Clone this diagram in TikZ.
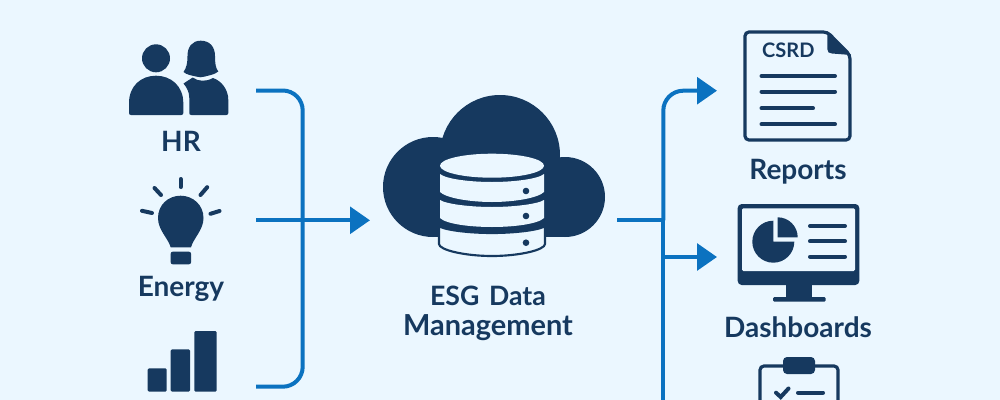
\documentclass[tikz,border=0pt]{standalone}
\usepackage{fontspec}
\setmainfont{Lato}
\usetikzlibrary{arrows.meta}
\definecolor{pagebg}{RGB}{235,247,255}
\definecolor{iconnavy}{RGB}{22,57,95}
\definecolor{flowblue}{RGB}{11,114,192}
\tikzset{
  flow/.style={draw=flowblue,line width=3pt},
  flowtip/.style={flow,-{Triangle[length=15pt,width=20pt]}},
  iconfill/.style={fill=iconnavy},
  iconline/.style={draw=iconnavy,line width=3pt,line cap=round},
  iconedge/.style={draw=iconnavy,line width=2.4pt,fill=pagebg,rounded corners=3pt},
  dbdisk/.style={draw=iconnavy,line width=1.6pt,fill=pagebg},
  boxlabel/.style={inner sep=0pt,text=iconnavy,font=\bfseries\fontsize{21}{22.5}\selectfont,align=center},
}
\begin{document}
\begin{tikzpicture}[x=0.75pt,y=0.75pt,yscale=-1,xscale=1]
\useasboundingbox (0,0) rectangle (1000,400);
\fill [pagebg] (0,0) rectangle (1000,400);

%Shape: man
\fill [iconfill] (156,58.3) circle (14);
\fill [iconfill] (131,115) .. controls (129.8,115) and (129,114.2) .. (129,113) -- (129,103) .. controls (129,86) and (141,75.7) .. (156,75.7) .. controls (171,75.7) and (183.3,86) .. (183.3,103) -- (183.3,113) .. controls (183.3,114.2) and (182.5,115) .. (181.3,115) -- cycle;
%Shape: woman
\fill [iconfill] (200.7,40.7) .. controls (210,40.7) and (215,47) .. (215,56) .. controls (215,63) and (215.5,68) .. (218.3,71.5) .. controls (214,75) and (208,75.5) .. (205,76.5) .. controls (202,77.5) and (199,77.5) .. (196,76.5) .. controls (192,75.5) and (187,75) .. (183.5,72) .. controls (186.5,68) and (187.5,63) .. (187.5,56) .. controls (187.5,47) and (192,40.7) .. (200.7,40.7) -- cycle;
\fill [iconfill] (183.5,83.5) -- (192.7,77.5) .. controls (198,81.5) and (206,82) .. (213,78) .. controls (222,81) and (228.3,90) .. (228.3,100) -- (228.3,113) .. controls (228.3,114.2) and (227.5,115) .. (226.3,115) -- (191.3,115) .. controls (190,115) and (189.3,114.2) .. (189.3,113) -- (189.3,98) .. controls (189.3,92) and (186.5,87) .. (183.5,83.5) -- cycle;
%Shape: bulb
\fill [iconfill] (170.7,247.3) .. controls (168,238) and (158,230) .. (158,218) .. controls (158,205) and (168,195.7) .. (180.7,195.7) .. controls (193,195.7) and (203.5,205) .. (203.5,218) .. controls (203.5,230) and (193.5,238) .. (191,247.3) -- cycle;
\fill [iconfill,rounded corners=1.5pt] (170.7,251.7) rectangle (191,264.3);
\draw [iconline] (180.7,179) -- (180.7,187);
\draw [iconline] (154.5,188) -- (161,195);
\draw [iconline] (207.2,187.2) -- (200.5,195);
\draw [iconline] (142,210.8) -- (152,213);
\draw [iconline] (219.5,211) -- (210.5,213.8);
%Shape: bars
\fill [iconfill,rounded corners=1pt] (147.7,368.3) rectangle (166.7,391.7);
\fill [iconfill,rounded corners=1pt] (170.7,349.3) rectangle (190,391.7);
\fill [iconfill,rounded corners=1pt] (194.3,331) rectangle (216.7,391.7);

%Shape: cloud
\fill [iconfill] (433,187) circle (50);
\fill [iconfill] (500,155) circle (60);
\fill [iconfill] (565,197) circle (40);
\fill [iconfill] (433,170) rectangle (565,236.7);
%Shape: database
\draw [dbdisk] (439,226) -- (439,244) .. controls (439,250) and (465,256) .. (492,256) .. controls (519,256) and (545,250) .. (545,244) -- (545,226) .. controls (540,230) and (515,233) .. (492,233) .. controls (469,233) and (444,230) .. (439,226) -- cycle;
\fill [pagebg] (440,200) -- (440,218) .. controls (446,224) and (470,227) .. (492,227) .. controls (514,227) and (538,224) .. (544,218) -- (544,200) .. controls (538,204) and (514,207) .. (492,207) .. controls (470,207) and (446,204) .. (440,200) -- cycle;
\fill [pagebg] (440,174) -- (440,192) .. controls (446,198) and (470,202) .. (492,202) .. controls (514,202) and (538,198) .. (544,192) -- (544,174) .. controls (538,179) and (514,182) .. (492,182) .. controls (470,182) and (446,179) .. (440,174) -- cycle;
\fill [pagebg] (492,165.7) ellipse (52 and 12);
\foreach \dotrow in {191,216,242.7}
  \fill [iconfill] (526,\dotrow) circle (3.3);

%Shape: document
\draw [iconedge] (745,32) -- (827.3,32) -- (850,55) -- (850,140) -- (745,140) -- cycle;
\fill [iconfill] (827.3,31) -- (851,55) -- (832,53.5) .. controls (829,53.5) and (827.3,52) .. (827.3,49) -- cycle;
\draw [iconline] (761.5,76) -- (835,76);
\draw [iconline] (761.5,91.7) -- (835,91.7);
\draw [iconline] (761.5,108.3) -- (813,108.3);
\draw [iconline] (761.5,124.3) -- (835,124.3);
%Shape: monitor
\fill [iconfill,rounded corners=3pt] (737.7,204) rectangle (859.3,285);
\fill [pagebg,rounded corners=1pt] (742,208.3) rectangle (855,271);
\fill [iconfill] (786,284) rectangle (811.7,298);
\fill [iconfill,rounded corners=1pt] (773,297) rectangle (825.7,301.7);
\fill [iconfill] (773.3,241.7) -- (773.3,220.7) arc [start angle=270,end angle=0,radius=21] -- cycle;
\fill [iconfill] (777.7,237.3) -- (777.7,217.3) arc [start angle=270,end angle=360,radius=20] -- cycle;
\draw [iconline] (810,226) -- (845,226);
\draw [iconline] (810,241.3) -- (845,241.3);
\draw [iconline] (810,256.7) -- (845,256.7);
%Shape: clipboard
\draw [iconedge] (760,400) -- (760,366) -- (838,366) -- (838,400);
\fill [iconfill,rounded corners=3pt] (783,357) rectangle (815,374);
\draw [iconline] (776,392.7) -- (780.7,397) -- (788.5,388.5);
\draw [iconline] (798,392.7) -- (823,392.7);

% Connectors
\coordinate (hrout) at (256,90.5);
\coordinate (energyout) at (256,220.3);
\coordinate (chartout) at (256,386.7);
\coordinate (cloudin) at (370,220.3);
\coordinate (cloudout) at (617,220.3);
\coordinate (busjoin) at (663.3,220.3);
\coordinate (busend) at (663.3,400);
\coordinate (reportsin) at (717,90.7);
\coordinate (dashin) at (717,257);
\draw [flow,rounded corners=15pt] (hrout) -- (302.7,90.5) -- (302.7,386.7) -- (chartout);
\draw [flowtip] (energyout) -- (cloudin);
\draw [flow] (cloudout) -- (busjoin);
\draw [flow] (busend) -- (busjoin);
\draw [flowtip,rounded corners=15pt] (busjoin) -- (busjoin |- reportsin) -- (reportsin);
\draw [flowtip] (busjoin |- dashin) -- (dashin);

% Text Node
\node (hrlabel) [boxlabel] at (181,141.5) {HR};
\node (energylabel) [boxlabel] at (181,289) {Energy};
\node (esglabel) [boxlabel,text width=180pt,font=\bfseries\fontsize{21.7}{22.5}\selectfont] at (488,313) {{\fontsize{20}{22.5}\selectfont ESG Data}\\Management};
\node (reportslabel) [boxlabel] at (798,171.5) {Reports};
\node (dashlabel) [boxlabel] at (798,327) {Dashboards};
\node (csrdlabel) [boxlabel,font=\bfseries\fontsize{15}{16}\selectfont] at (788.3,50.7) {CSRD};
\end{tikzpicture}
\end{document}
